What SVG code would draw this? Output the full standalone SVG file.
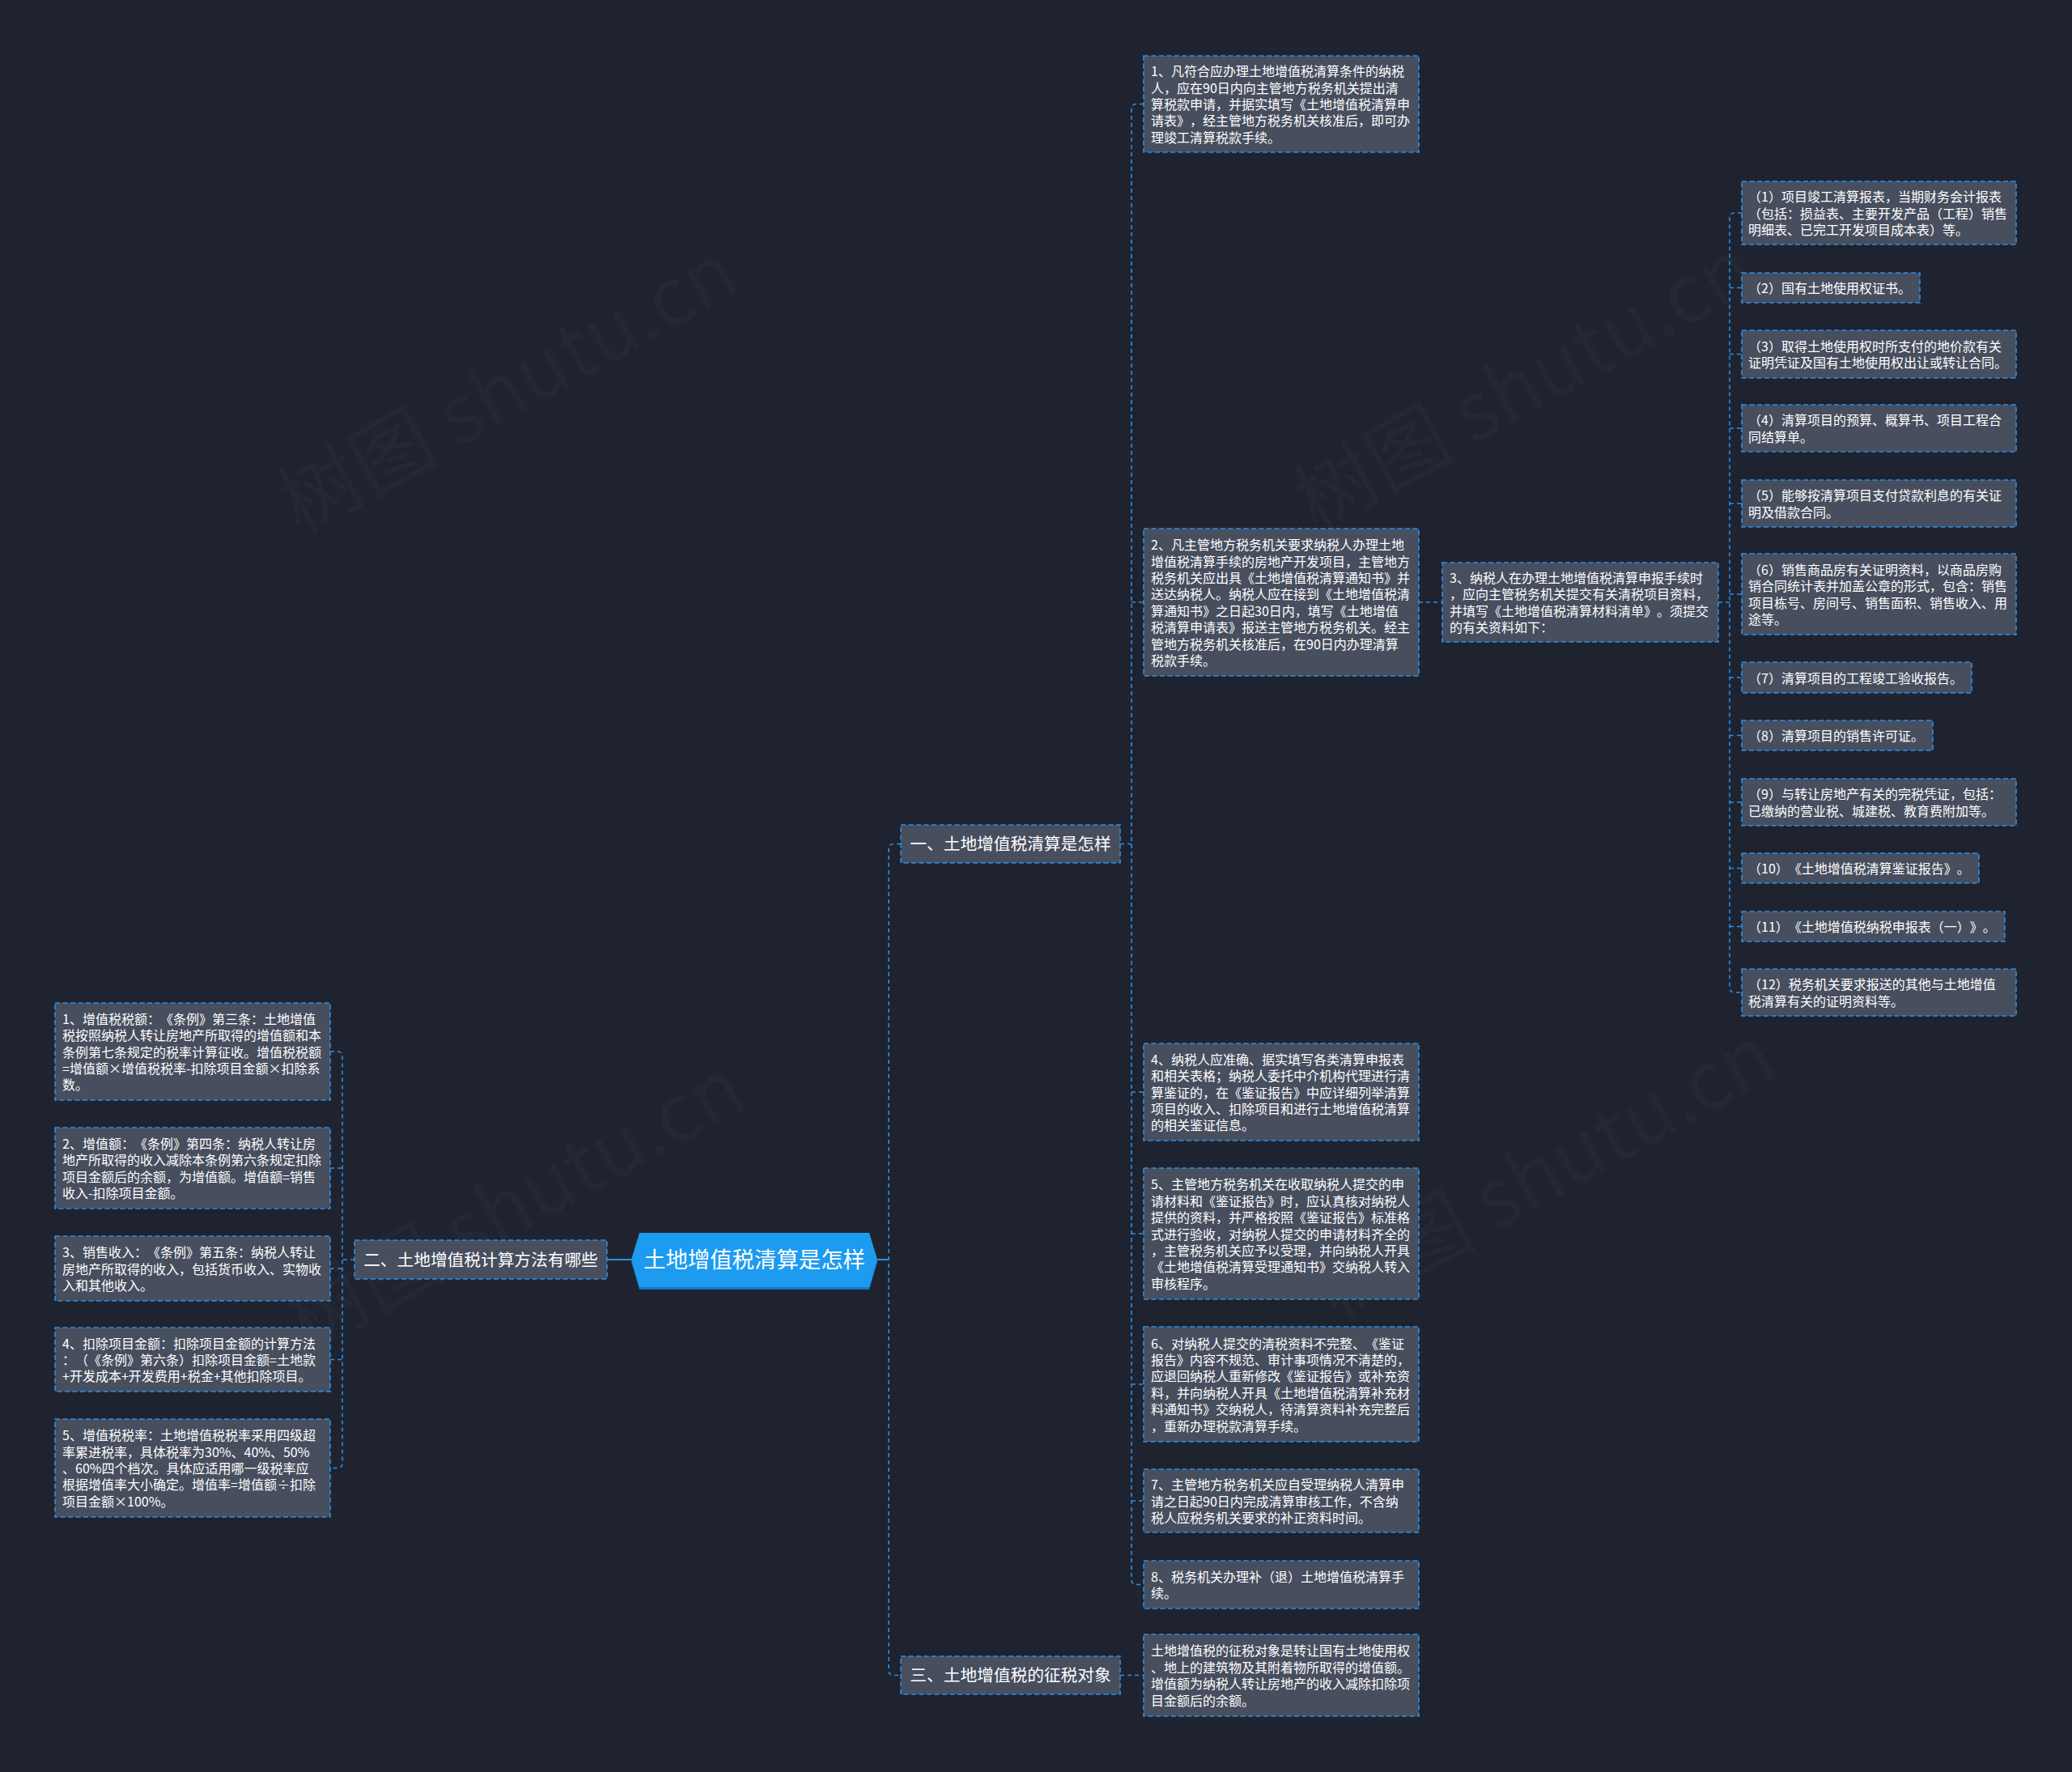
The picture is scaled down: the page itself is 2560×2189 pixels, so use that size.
<svg xmlns="http://www.w3.org/2000/svg" width="2560" height="2189" viewBox="0 0 2560 2189">
<style>
text{font-family:"Noto Sans CJK SC","Noto Sans",sans-serif;fill:#ffffff;text-spacing-trim:space-all}
.box{fill:#474e5e;stroke:#2a8fe6;stroke-width:1.6;stroke-dasharray:6 3.5}
.t{font-size:16px}
.b{font-size:20.7px;text-anchor:middle}
.root{font-size:27.4px;text-anchor:middle}
.c{fill:none;stroke:#2a8fe6;stroke-width:1.6;stroke-dasharray:5 4}
.cs{fill:none;stroke:#2a8fe6;stroke-width:2}
.wm{font-size:100px;fill:#ffffff;fill-opacity:0.025;font-family:"Noto Sans CJK SC","Liberation Serif",serif}
</style>
<rect x="0" y="0" width="2560" height="2189" fill="#1f2330"/>
<g id="watermark">
<text class="wm" transform="translate(645,510) rotate(-29)" text-anchor="middle">树图 shutu.cn</text>
<text class="wm" transform="translate(1900,506) rotate(-29)" text-anchor="middle">树图 shutu.cn</text>
<text class="wm" transform="translate(653,1518) rotate(-29)" text-anchor="middle">树图 shutu.cn</text>
<text class="wm" transform="translate(1926,1478) rotate(-29)" text-anchor="middle">树图 shutu.cn</text>
</g>
<g id="connectors">
<path class="cs" d="M1084,1556 H1098"/>
<path class="cs" d="M780,1556 H750"/>
<path class="c" d="M1113,1042.5 H1104 Q1098,1042.5 1098,1048.5 V2063.5 Q1098,2069.5 1104,2069.5 H1113"/>
<path class="c" d="M438,1556 H423"/>
<path class="c" d="M408,1299 H417 Q423,1299 423,1305 V1807.5 Q423,1813.5 417,1813.5 H408"/>
<path class="c" d="M408,1443 H423 M408,1567 H423 M408,1679.5 H423"/>
<path class="c" d="M1384,1042.5 H1398"/>
<path class="c" d="M1413,128.5 H1404 Q1398,128.5 1398,134.5 V1951.5 Q1398,1957.5 1404,1957.5 H1413"/>
<path class="c" d="M1398,744 H1413 M1398,1349 H1413 M1398,1524 H1413 M1398,1710 H1413 M1398,1854 H1413"/>
<path class="c" d="M1753,744 H1782"/>
<path class="c" d="M2123,744 H2137"/>
<path class="c" d="M2152,263 H2143 Q2137,263 2137,269 V1220 Q2137,1226 2143,1226 H2152"/>
<path class="c" d="M2137,355.5 H2152 M2137,437.5 H2152 M2137,529 H2152 M2137,622 H2152 M2137,734 H2152 M2137,837 H2152 M2137,908.5 H2152 M2137,991 H2152 M2137,1072.5 H2152 M2137,1144.5 H2152"/>
<path class="c" d="M1384,2069.5 H1413"/>
</g>
<g id="root">
<polygon points="780,1559 790,1526 1074,1526 1084,1559 1074,1593 790,1593" fill="#1577c2"/>
<polygon points="780,1556 790,1523 1074,1523 1084,1556 1074,1590 790,1590" fill="#1d9bf0"/>
<text class="root" x="932" y="1566">土地增值税清算是怎样</text>
</g>
<g id="b1">
<rect class="box" x="1113" y="1019" width="271" height="47"/>
<text class="b" x="1248.5" y="1050">一、土地增值税清算是怎样</text>
</g>
<g id="b2">
<rect class="box" x="438" y="1532" width="312" height="48"/>
<text class="b" x="594" y="1563.5">二、土地增值税计算方法有哪些</text>
</g>
<g id="b3">
<rect class="box" x="1113" y="2046" width="271" height="47"/>
<text class="b" x="1248.5" y="2077">三、土地增值税的征税对象</text>
</g>
<g id="n1">
<rect class="box" x="1413" y="69" width="340" height="119"/>
<text class="t"><tspan x="1422" y="94.2">1、凡符合应办理土地增值税清算条件的纳税</tspan><tspan x="1422" y="114.6">人，应在90日内向主管地方税务机关提出清</tspan><tspan x="1422" y="135">算税款申请，并据实填写《土地增值税清算申</tspan><tspan x="1422" y="155.4">请表》，经主管地方税务机关核准后，即可办</tspan><tspan x="1422" y="175.8">理竣工清算税款手续。</tspan></text>
</g>
<g id="n2">
<rect class="box" x="1413" y="653" width="340" height="182"/>
<text class="t"><tspan x="1422" y="679.1">2、凡主管地方税务机关要求纳税人办理土地</tspan><tspan x="1422" y="699.5">增值税清算手续的房地产开发项目，主管地方</tspan><tspan x="1422" y="719.9">税务机关应出具《土地增值税清算通知书》并</tspan><tspan x="1422" y="740.3">送达纳税人。纳税人应在接到《土地增值税清</tspan><tspan x="1422" y="760.7">算通知书》之日起30日内，填写《土地增值</tspan><tspan x="1422" y="781.1">税清算申请表》报送主管地方税务机关。经主</tspan><tspan x="1422" y="801.5">管地方税务机关核准后，在90日内办理清算</tspan><tspan x="1422" y="821.9">税款手续。</tspan></text>
</g>
<g id="n3">
<rect class="box" x="1782" y="695" width="341" height="98"/>
<text class="t"><tspan x="1791" y="719.9">3、纳税人在办理土地增值税清算申报手续时</tspan><tspan x="1791" y="740.3">，应向主管税务机关提交有关清税项目资料，</tspan><tspan x="1791" y="760.7">并填写《土地增值税清算材料清单》。须提交</tspan><tspan x="1791" y="781.1">的有关资料如下：</tspan></text>
</g>
<g id="n4">
<rect class="box" x="1413" y="1289" width="340" height="120"/>
<text class="t"><tspan x="1422" y="1314.7">4、纳税人应准确、据实填写各类清算申报表</tspan><tspan x="1422" y="1335.1">和相关表格；纳税人委托中介机构代理进行清</tspan><tspan x="1422" y="1355.5">算鉴证的，在《鉴证报告》中应详细列举清算</tspan><tspan x="1422" y="1375.9">项目的收入、扣除项目和进行土地增值税清算</tspan><tspan x="1422" y="1396.3">的相关鉴证信息。</tspan></text>
</g>
<g id="n5">
<rect class="box" x="1413" y="1443" width="340" height="162"/>
<text class="t"><tspan x="1422" y="1469.3">5、主管地方税务机关在收取纳税人提交的申</tspan><tspan x="1422" y="1489.7">请材料和《鉴证报告》时，应认真核对纳税人</tspan><tspan x="1422" y="1510.1">提供的资料，并严格按照《鉴证报告》标准格</tspan><tspan x="1422" y="1530.5">式进行验收，对纳税人提交的申请材料齐全的</tspan><tspan x="1422" y="1550.9">，主管税务机关应予以受理，并向纳税人开具</tspan><tspan x="1422" y="1571.3">《土地增值税清算受理通知书》交纳税人转入</tspan><tspan x="1422" y="1591.7">审核程序。</tspan></text>
</g>
<g id="n6">
<rect class="box" x="1413" y="1639" width="340" height="142"/>
<text class="t"><tspan x="1422" y="1665.5">6、对纳税人提交的清税资料不完整、《鉴证</tspan><tspan x="1422" y="1685.9">报告》内容不规范、审计事项情况不清楚的，</tspan><tspan x="1422" y="1706.3">应退回纳税人重新修改《鉴证报告》或补充资</tspan><tspan x="1422" y="1726.7">料，并向纳税人开具《土地增值税清算补充材</tspan><tspan x="1422" y="1747.1">料通知书》交纳税人，待清算资料补充完整后</tspan><tspan x="1422" y="1767.5">，重新办理税款清算手续。</tspan></text>
</g>
<g id="n7">
<rect class="box" x="1413" y="1815" width="340" height="78"/>
<text class="t"><tspan x="1422" y="1840.1">7、主管地方税务机关应自受理纳税人清算申</tspan><tspan x="1422" y="1860.5">请之日起90日内完成清算审核工作，不含纳</tspan><tspan x="1422" y="1880.9">税人应税务机关要求的补正资料时间。</tspan></text>
</g>
<g id="n8">
<rect class="box" x="1413" y="1928" width="340" height="59"/>
<text class="t"><tspan x="1422" y="1953.8">8、税务机关办理补（退）土地增值税清算手</tspan><tspan x="1422" y="1974.2">续。</tspan></text>
</g>
<g id="n9">
<rect class="box" x="1413" y="2019" width="340" height="101"/>
<text class="t"><tspan x="1422" y="2045.4">土地增值税的征税对象是转让国有土地使用权</tspan><tspan x="1422" y="2065.8">、地上的建筑物及其附着物所取得的增值额。</tspan><tspan x="1422" y="2086.2">增值额为纳税人转让房地产的收入减除扣除项</tspan><tspan x="1422" y="2106.6">目金额后的余额。</tspan></text>
</g>
<g id="l1">
<rect class="box" x="68" y="1239" width="340" height="120"/>
<text class="t"><tspan x="77" y="1264.7">1、增值税税额：《条例》第三条：土地增值</tspan><tspan x="77" y="1285.1">税按照纳税人转让房地产所取得的增值额和本</tspan><tspan x="77" y="1305.5">条例第七条规定的税率计算征收。增值税税额</tspan><tspan x="77" y="1325.9">=增值额×增值税税率-扣除项目金额×扣除系</tspan><tspan x="77" y="1346.3">数。</tspan></text>
</g>
<g id="l2">
<rect class="box" x="68" y="1393" width="340" height="100"/>
<text class="t"><tspan x="77" y="1418.9">2、增值额：《条例》第四条：纳税人转让房</tspan><tspan x="77" y="1439.3">地产所取得的收入减除本条例第六条规定扣除</tspan><tspan x="77" y="1459.7">项目金额后的余额，为增值额。增值额=销售</tspan><tspan x="77" y="1480.1">收入-扣除项目金额。</tspan></text>
</g>
<g id="l3">
<rect class="box" x="68" y="1527" width="340" height="80"/>
<text class="t"><tspan x="77" y="1553.1">3、销售收入：《条例》第五条：纳税人转让</tspan><tspan x="77" y="1573.5">房地产所取得的收入，包括货币收入、实物收</tspan><tspan x="77" y="1593.9">入和其他收入。</tspan></text>
</g>
<g id="l4">
<rect class="box" x="68" y="1640" width="340" height="79"/>
<text class="t"><tspan x="77" y="1665.6">4、扣除项目金额：扣除项目金额的计算方法</tspan><tspan x="77" y="1686">：（《条例》第六条）扣除项目金额=土地款</tspan><tspan x="77" y="1706.4">+开发成本+开发费用+税金+其他扣除项目。</tspan></text>
</g>
<g id="l5">
<rect class="box" x="68" y="1753" width="340" height="121"/>
<text class="t"><tspan x="77" y="1779.2">5、增值税税率：土地增值税税率采用四级超</tspan><tspan x="77" y="1799.6">率累进税率，具体税率为30%、40%、50%</tspan><tspan x="77" y="1820">、60%四个档次。具体应适用哪一级税率应</tspan><tspan x="77" y="1840.4">根据增值率大小确定。增值率=增值额÷扣除</tspan><tspan x="77" y="1860.8">项目金额×100%。</tspan></text>
</g>
<g id="r1">
<rect class="box" x="2152" y="224" width="339" height="78"/>
<text class="t"><tspan x="2160" y="249.1">（1）项目竣工清算报表，当期财务会计报表</tspan><tspan x="2160" y="269.5">（包括：损益表、主要开发产品（工程）销售</tspan><tspan x="2160" y="289.9">明细表、已完工开发项目成本表）等。</tspan></text>
</g>
<g id="r2">
<rect class="box" x="2152" y="337" width="220" height="37"/>
<text class="t" x="2160" y="362">（2）国有土地使用权证书。</text>
</g>
<g id="r3">
<rect class="box" x="2152" y="408" width="339" height="59"/>
<text class="t"><tspan x="2160" y="433.8">（3）取得土地使用权时所支付的地价款有关</tspan><tspan x="2160" y="454.2">证明凭证及国有土地使用权出让或转让合同。</tspan></text>
</g>
<g id="r4">
<rect class="box" x="2152" y="500" width="339" height="58"/>
<text class="t"><tspan x="2160" y="525.3">（4）清算项目的预算、概算书、项目工程合</tspan><tspan x="2160" y="545.7">同结算单。</tspan></text>
</g>
<g id="r5">
<rect class="box" x="2152" y="593" width="339" height="58"/>
<text class="t"><tspan x="2160" y="618.3">（5）能够按清算项目支付贷款利息的有关证</tspan><tspan x="2160" y="638.7">明及借款合同。</tspan></text>
</g>
<g id="r6">
<rect class="box" x="2152" y="684" width="339" height="100"/>
<text class="t"><tspan x="2160" y="709.9">（6）销售商品房有关证明资料，以商品房购</tspan><tspan x="2160" y="730.3">销合同统计表并加盖公章的形式，包含：销售</tspan><tspan x="2160" y="750.7">项目栋号、房间号、销售面积、销售收入、用</tspan><tspan x="2160" y="771.1">途等。</tspan></text>
</g>
<g id="r7">
<rect class="box" x="2152" y="818" width="284" height="38"/>
<text class="t" x="2160" y="843.5">（7）清算项目的工程竣工验收报告。</text>
</g>
<g id="r8">
<rect class="box" x="2152" y="890" width="236" height="37"/>
<text class="t" x="2160" y="915">（8）清算项目的销售许可证。</text>
</g>
<g id="r9">
<rect class="box" x="2152" y="962" width="339" height="58"/>
<text class="t"><tspan x="2160" y="987.3">（9）与转让房地产有关的完税凭证，包括：</tspan><tspan x="2160" y="1007.7">已缴纳的营业税、城建税、教育费附加等。</tspan></text>
</g>
<g id="r10">
<rect class="box" x="2152" y="1054" width="293" height="37"/>
<text class="t" x="2160" y="1079">（10）《土地增值税清算鉴证报告》。</text>
</g>
<g id="r11">
<rect class="box" x="2152" y="1126" width="325" height="37"/>
<text class="t" x="2160" y="1151">（11）《土地增值税纳税申报表（一）》。</text>
</g>
<g id="r12">
<rect class="box" x="2152" y="1197" width="339" height="58"/>
<text class="t"><tspan x="2160" y="1222.3">（12）税务机关要求报送的其他与土地增值</tspan><tspan x="2160" y="1242.7">税清算有关的证明资料等。</tspan></text>
</g>
</svg>
